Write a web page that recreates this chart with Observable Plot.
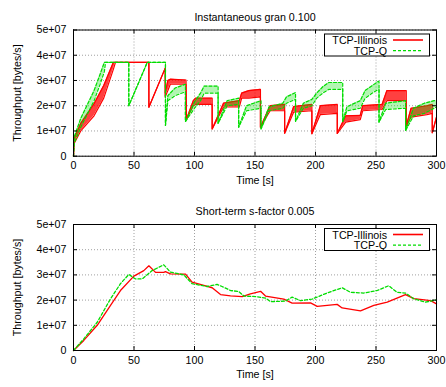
<!DOCTYPE html>
<html><head><meta charset="utf-8">
<script src="https://cdn.jsdelivr.net/npm/d3@7"></script>
<script src="https://cdn.jsdelivr.net/npm/@observablehq/plot@0.6"></script>
<style>
body{margin:0;background:#fff;}
#chart{width:446px;height:387px;overflow:hidden;background:#fff;}
#chart svg{display:block;}
</style></head><body><div id="chart"></div>
<script>
// ---------- data ----------
const seriesNames = ["TCP-Illinois", "TCP-Q"];
const panelTitles = ["Instantaneous gran 0.100", "Short-term s-factor 0.005"];
const xLabel = "Time [s]";
const yLabel = "Throughput [bytes/s]";
const xTicks = [0, 50, 100, 150, 200, 250, 300];
const xTickLabels = ["0", "50", "100", "150", "200", "250", "300"];
const yTicks = [0, 1e7, 2e7, 3e7, 4e7, 5e7];
const yTickLabels = ["0", "1e+07", "2e+07", "3e+07", "4e+07", "5e+07"];
const UNIT = 1e7; // values below are in units of 1e+07 bytes/s

// Instantaneous (top): oscillation envelope low / high
const instIllinoisT  = [0, 0.5, 6, 17, 25, 33, 34.7, 62.3, 62.3, 75.8, 75.8, 78, 80, 93, 93.3, 99, 101, 114.6, 114.6, 124, 137, 139, 145, 154.5, 154.5, 162.5, 174.5, 174.5, 182, 197, 197, 204, 218, 218, 225, 237, 239, 255, 259, 275, 275, 279, 292, 296.5, 296.5, 300];
const instIllinoisLo = [0, 0.5, 1.0, 1.6, 2.3, 3.45, 3.72, 3.72, 1.94, 3.49, 2.35, 2.6, 2.85, 2.85, 1.45, 2.0, 2.05, 2.05, 1.08, 1.95, 1.95, 2.3, 2.3, 2.35, 1.15, 1.8, 1.8, 0.91, 1.75, 1.8, 0.89, 1.65, 1.7, 0.9, 1.35, 1.45, 1.8, 1.85, 2.2, 2.2, 1.2, 1.55, 1.65, 1.7, 0.93, 1.55];
const instIllinoisHi = [0, 0.7, 1.3, 2.08, 2.8, 3.72, 3.72, 3.72, 1.94, 3.49, 2.5, 3.0, 3.05, 3.02, 1.45, 2.2, 2.3, 2.3, 1.08, 2.1, 2.2, 2.5, 2.6, 2.65, 1.15, 2.0, 2.05, 0.91, 1.97, 2.05, 0.89, 2.0, 2.05, 0.9, 1.6, 1.62, 2.0, 2.05, 2.6, 2.6, 1.2, 1.9, 2.0, 2.05, 0.93, 1.55];

const instQT  = [0, 0.5, 6, 17, 22, 25.5, 26.5, 45.7, 45.7, 61, 76, 76, 78, 84, 92.5, 92.5, 100, 105, 108, 119.5, 119.5, 127, 136.5, 136.5, 143, 155, 155, 161.5, 173, 176, 183.5, 183.5, 190, 197, 201, 206, 211, 222.5, 222.5, 226, 237, 241, 247, 252, 252.5, 252.5, 258, 274.5, 274.5, 281, 290, 298, 300];
const instQLo = [0, 0.5, 1.15, 2.2, 2.85, 3.35, 3.72, 3.72, 2.0, 3.72, 3.72, 1.22, 2.2, 2.4, 2.55, 1.37, 1.9, 2.2, 2.5, 2.5, 1.3, 2.0, 2.05, 1.15, 1.8, 1.9, 1.08, 1.8, 1.9, 2.1, 2.25, 1.38, 1.9, 2.0, 2.3, 2.5, 2.65, 2.65, 1.37, 1.8, 1.9, 2.3, 2.5, 2.65, 2.65, 1.35, 1.85, 1.9, 1.02, 1.6, 1.7, 1.9, 1.95];
const instQHi = [0, 0.75, 1.5, 2.6, 3.25, 3.72, 3.72, 3.72, 2.0, 3.72, 3.72, 1.22, 2.4, 2.7, 2.85, 1.37, 2.15, 2.5, 2.78, 2.78, 1.3, 2.2, 2.3, 1.15, 2.0, 2.2, 1.08, 1.95, 2.1, 2.35, 2.52, 1.38, 2.1, 2.25, 2.5, 2.75, 2.92, 2.92, 1.37, 1.96, 2.2, 2.6, 2.8, 2.97, 2.95, 1.35, 2.1, 2.2, 1.02, 1.9, 2.1, 2.2, 2.2];

// Short-term (bottom)
const stIllinoisT = [0, 8.5, 19.6, 30.6, 38.8, 49.9, 58.1, 62.3, 67.8, 74.6, 76, 80.1, 92.6, 98, 107.7, 114.6, 121.5, 129.8, 139.4, 146.2, 154.6, 158.7, 173.8, 180.7, 195.9, 201.4, 217.9, 222, 237.2, 248.2, 259.3, 274.4, 281.3, 295.1, 300];
const stIllinoisV = [0, 0.4, 1.0, 1.79, 2.38, 2.95, 3.17, 3.36, 3.1, 3.1, 3.13, 3.04, 3.03, 2.71, 2.58, 2.49, 2.22, 2.17, 2.14, 2.25, 2.35, 2.16, 2.04, 1.88, 1.89, 1.75, 1.83, 1.69, 1.57, 1.79, 1.92, 2.22, 2.06, 1.98, 1.85];
const stQT = [0, 8.5, 19.6, 30.6, 38.8, 45.7, 51.2, 56.7, 65, 74.6, 80.1, 91.2, 98, 110.4, 118.7, 122.8, 129.8, 136.6, 140.8, 150.4, 158.7, 162.8, 175.2, 180.7, 187.6, 197.2, 209.5, 222, 228.9, 239.9, 250.9, 260.5, 267.4, 274.4, 281.3, 290.9, 300];
const stQV = [0, 0.46, 1.12, 2.05, 2.65, 3.02, 2.84, 2.84, 3.17, 3.4, 3.11, 3.0, 2.65, 2.54, 2.62, 2.54, 2.38, 2.34, 2.16, 2.14, 2.08, 1.94, 1.96, 2.12, 1.98, 2.04, 2.28, 2.49, 2.31, 2.28, 2.38, 2.57, 2.31, 2.28, 2.05, 1.92, 2.01];

// ---------- build ----------
(function () {
const RED = "#ff0000", GREEN = "#00dd00", DASH = "3,2";
const band = (T, lo, hi) => T.map((t, i) => ({t, lo: lo[i] * UNIT, hi: hi[i] * UNIT}));
const pts = (T, V) => T.map((t, i) => ({t, v: V[i] * UNIT}));

const W = 446, ML = 73, MR = 10;
const FONT = "'Liberation Sans', Arial, Helvetica, sans-serif";

function panel({title, height, marginTop, marginBottom, marks, tickPadX}) {
  const pw = W - ML - MR, ph = height - marginTop - marginBottom, tl = 4;
  const svg = Plot.plot({
    width: W, height, marginLeft: ML, marginRight: MR, marginTop, marginBottom,
    style: {fontFamily: FONT, fontSize: "10.7px", color: "#000", background: "#fff"},
    x: {domain: [0, 300]},
    y: {domain: [0, 5e7]},
    marks: [
      Plot.gridX(xTicks, {stroke: "#a0a0a0", strokeOpacity: 1, strokeDasharray: "1,2"}),
      Plot.gridY(yTicks, {stroke: "#a0a0a0", strokeOpacity: 1, strokeDasharray: "1,2"}),
      ...marks,
      Plot.frame({stroke: "#000", strokeWidth: 1}),
      Plot.tickY(yTicks, {y: d => d, stroke: "#000", insetRight: pw - tl}),
      Plot.tickY(yTicks, {y: d => d, stroke: "#000", insetLeft: pw - tl}),
      Plot.tickX(xTicks, {x: d => d, stroke: "#000", insetTop: ph - tl}),
      Plot.tickX(xTicks, {x: d => d, stroke: "#000", insetBottom: ph - tl}),
      Plot.axisY(yTicks, {tickSize: 0, tickPadding: 7, label: null, tickFormat: d => yTickLabels[yTicks.indexOf(d)]}),
      Plot.axisX(xTicks, {tickSize: 0, tickPadding: tickPadX, label: null, tickFormat: d => xTickLabels[xTicks.indexOf(d)]}),
      Plot.text([title], {text: d => d, frameAnchor: "top", dy: -17, fill: "#000"}),
      Plot.text([xLabel], {text: d => d, frameAnchor: "bottom", dy: 27.3, fill: "#000"}),
      Plot.text([yLabel], {text: d => d, frameAnchor: "left", textAnchor: "middle", lineAnchor: "middle", rotate: -90, dx: -56, fill: "#000"})
    ]
  });
  const g = d3.select(svg).append("g").attr("font-family", FONT).attr("font-size", "10.7px");
  const by = marginTop + 4.5;
  g.append("rect").attr("x", 324.5).attr("y", by).attr("width", 105).attr("height", 22)
    .attr("fill", "#fff").attr("stroke", "#000").attr("stroke-width", 1);
  const styles = [{stroke: RED, dash: null, w: 1.6}, {stroke: GREEN, dash: DASH, w: 1.3}];
  seriesNames.forEach((name, i) => {
    const yy = by + 6 + i * 10.7;
    g.append("text").attr("x", 387).attr("y", yy).attr("text-anchor", "end")
      .attr("dominant-baseline", "central").attr("fill", "#000").text(name);
    g.append("line").attr("x1", 393).attr("x2", 423).attr("y1", yy).attr("y2", yy)
      .attr("stroke", styles[i].stroke).attr("stroke-width", styles[i].w)
      .attr("stroke-dasharray", styles[i].dash);
  });
  return svg;
}

const instI = band(instIllinoisT, instIllinoisLo, instIllinoisHi);
const instQ = band(instQT, instQLo, instQHi);
const stI = pts(stIllinoisT, stIllinoisV);
const stQ = pts(stQT, stQV);

const topPanel = panel({
  title: panelTitles[0], height: 196, marginTop: 29.5, marginBottom: 40.3, tickPadX: 5,
  marks: [
    Plot.areaY(instI, {x: "t", y1: "lo", y2: "hi", fill: RED, fillOpacity: 0.75}),
    Plot.line(instI, {x: "t", y: "lo", stroke: RED, strokeWidth: 1.2}),
    Plot.line(instI, {x: "t", y: "hi", stroke: RED, strokeWidth: 1.2}),
    Plot.areaY(instQ, {x: "t", y1: "lo", y2: "hi", fill: GREEN, fillOpacity: 0.3}),
    Plot.line(instQ, {x: "t", y: "lo", stroke: GREEN, strokeWidth: 1.2, strokeDasharray: DASH}),
    Plot.line(instQ, {x: "t", y: "hi", stroke: GREEN, strokeWidth: 1.2, strokeDasharray: DASH})
  ]
});
const bottomPanel = panel({
  title: panelTitles[1], height: 191, marginTop: 28, marginBottom: 37, tickPadX: 6,
  marks: [
    Plot.line(stI, {x: "t", y: "v", stroke: RED, strokeWidth: 1.3}),
    Plot.line(stQ, {x: "t", y: "v", stroke: GREEN, strokeWidth: 1.3, strokeDasharray: DASH})
  ]
});
const root = document.getElementById("chart");
root.appendChild(topPanel);
root.appendChild(bottomPanel);
})();
</script></body></html>
